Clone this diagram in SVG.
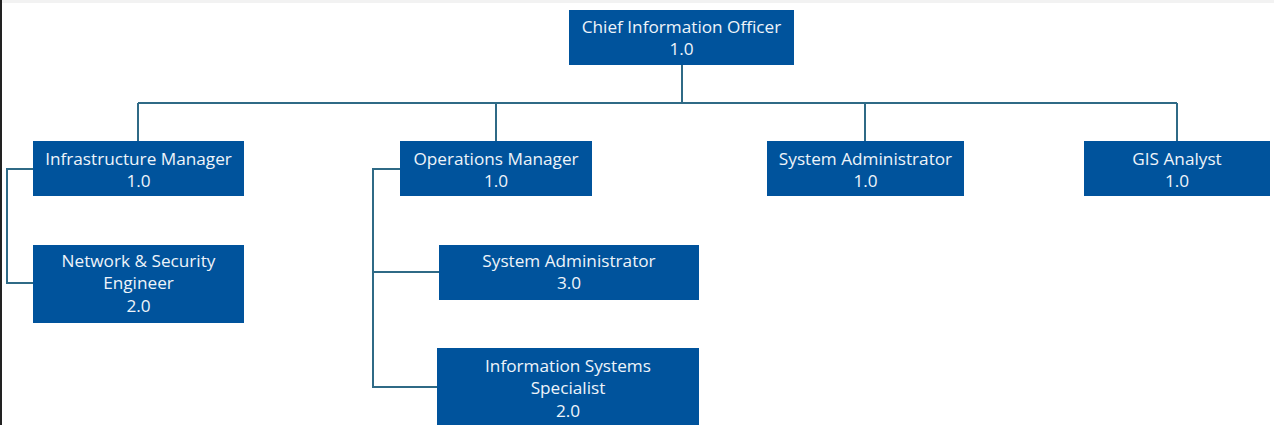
<svg xmlns="http://www.w3.org/2000/svg" width="1274" height="425" viewBox="0 0 1274 425">
<style>
.box{fill:#00539C}
.t{font-family:"Open Sans","Noto Sans",sans-serif;font-size:17.2px;fill:#EEF4FA;text-anchor:middle}
.c{fill:none;stroke:#2F6A86;stroke-width:2}
</style>
<rect x="0" y="0" width="1274" height="425" fill="#ffffff"/>
<rect x="0" y="0" width="1274" height="3" fill="#F2F2F2"/>
<rect x="0" y="0" width="2" height="425" fill="#222222"/>
<g id="connectors">
<path class="c" d="M682 65V103M138 103H1177M138 103V141M496 103V141M865 103V141M1177 103V141"/>
<path class="c" d="M33 169H7V283H33"/>
<path class="c" d="M400 169H373V387H437M373 272H439"/>
</g>
<g id="cio"><rect class="box" x="569" y="10" width="225" height="55"/><text class="t" x="681.5" y="33">Chief Information Officer</text><text class="t" x="681.5" y="55">1.0</text></g>
<g id="infra"><rect class="box" x="33" y="141" width="211" height="55"/><text class="t" x="138.5" y="165">Infrastructure Manager</text><text class="t" x="138.5" y="187">1.0</text></g>
<g id="ops"><rect class="box" x="400" y="141" width="192" height="55"/><text class="t" x="496" y="165">Operations Manager</text><text class="t" x="496" y="187">1.0</text></g>
<g id="sysadmin1"><rect class="box" x="767" y="141" width="197" height="55"/><text class="t" x="865.5" y="165">System Administrator</text><text class="t" x="865.5" y="187">1.0</text></g>
<g id="gis"><rect class="box" x="1084" y="141" width="186" height="55"/><text class="t" x="1177" y="165">GIS Analyst</text><text class="t" x="1177" y="187">1.0</text></g>
<g id="netsec"><rect class="box" x="33" y="245" width="211" height="78"/><text class="t" x="138.5" y="267">Network &amp; Security</text><text class="t" x="138.5" y="289">Engineer</text><text class="t" x="138.5" y="312">2.0</text></g>
<g id="sysadmin3"><rect class="box" x="439" y="245" width="260" height="55"/><text class="t" x="569" y="267">System Administrator</text><text class="t" x="569" y="289">3.0</text></g>
<g id="iss"><rect class="box" x="437" y="348" width="262" height="80"/><text class="t" x="568" y="372">Information Systems</text><text class="t" x="568" y="394">Specialist</text><text class="t" x="568" y="417">2.0</text></g>
</svg>
